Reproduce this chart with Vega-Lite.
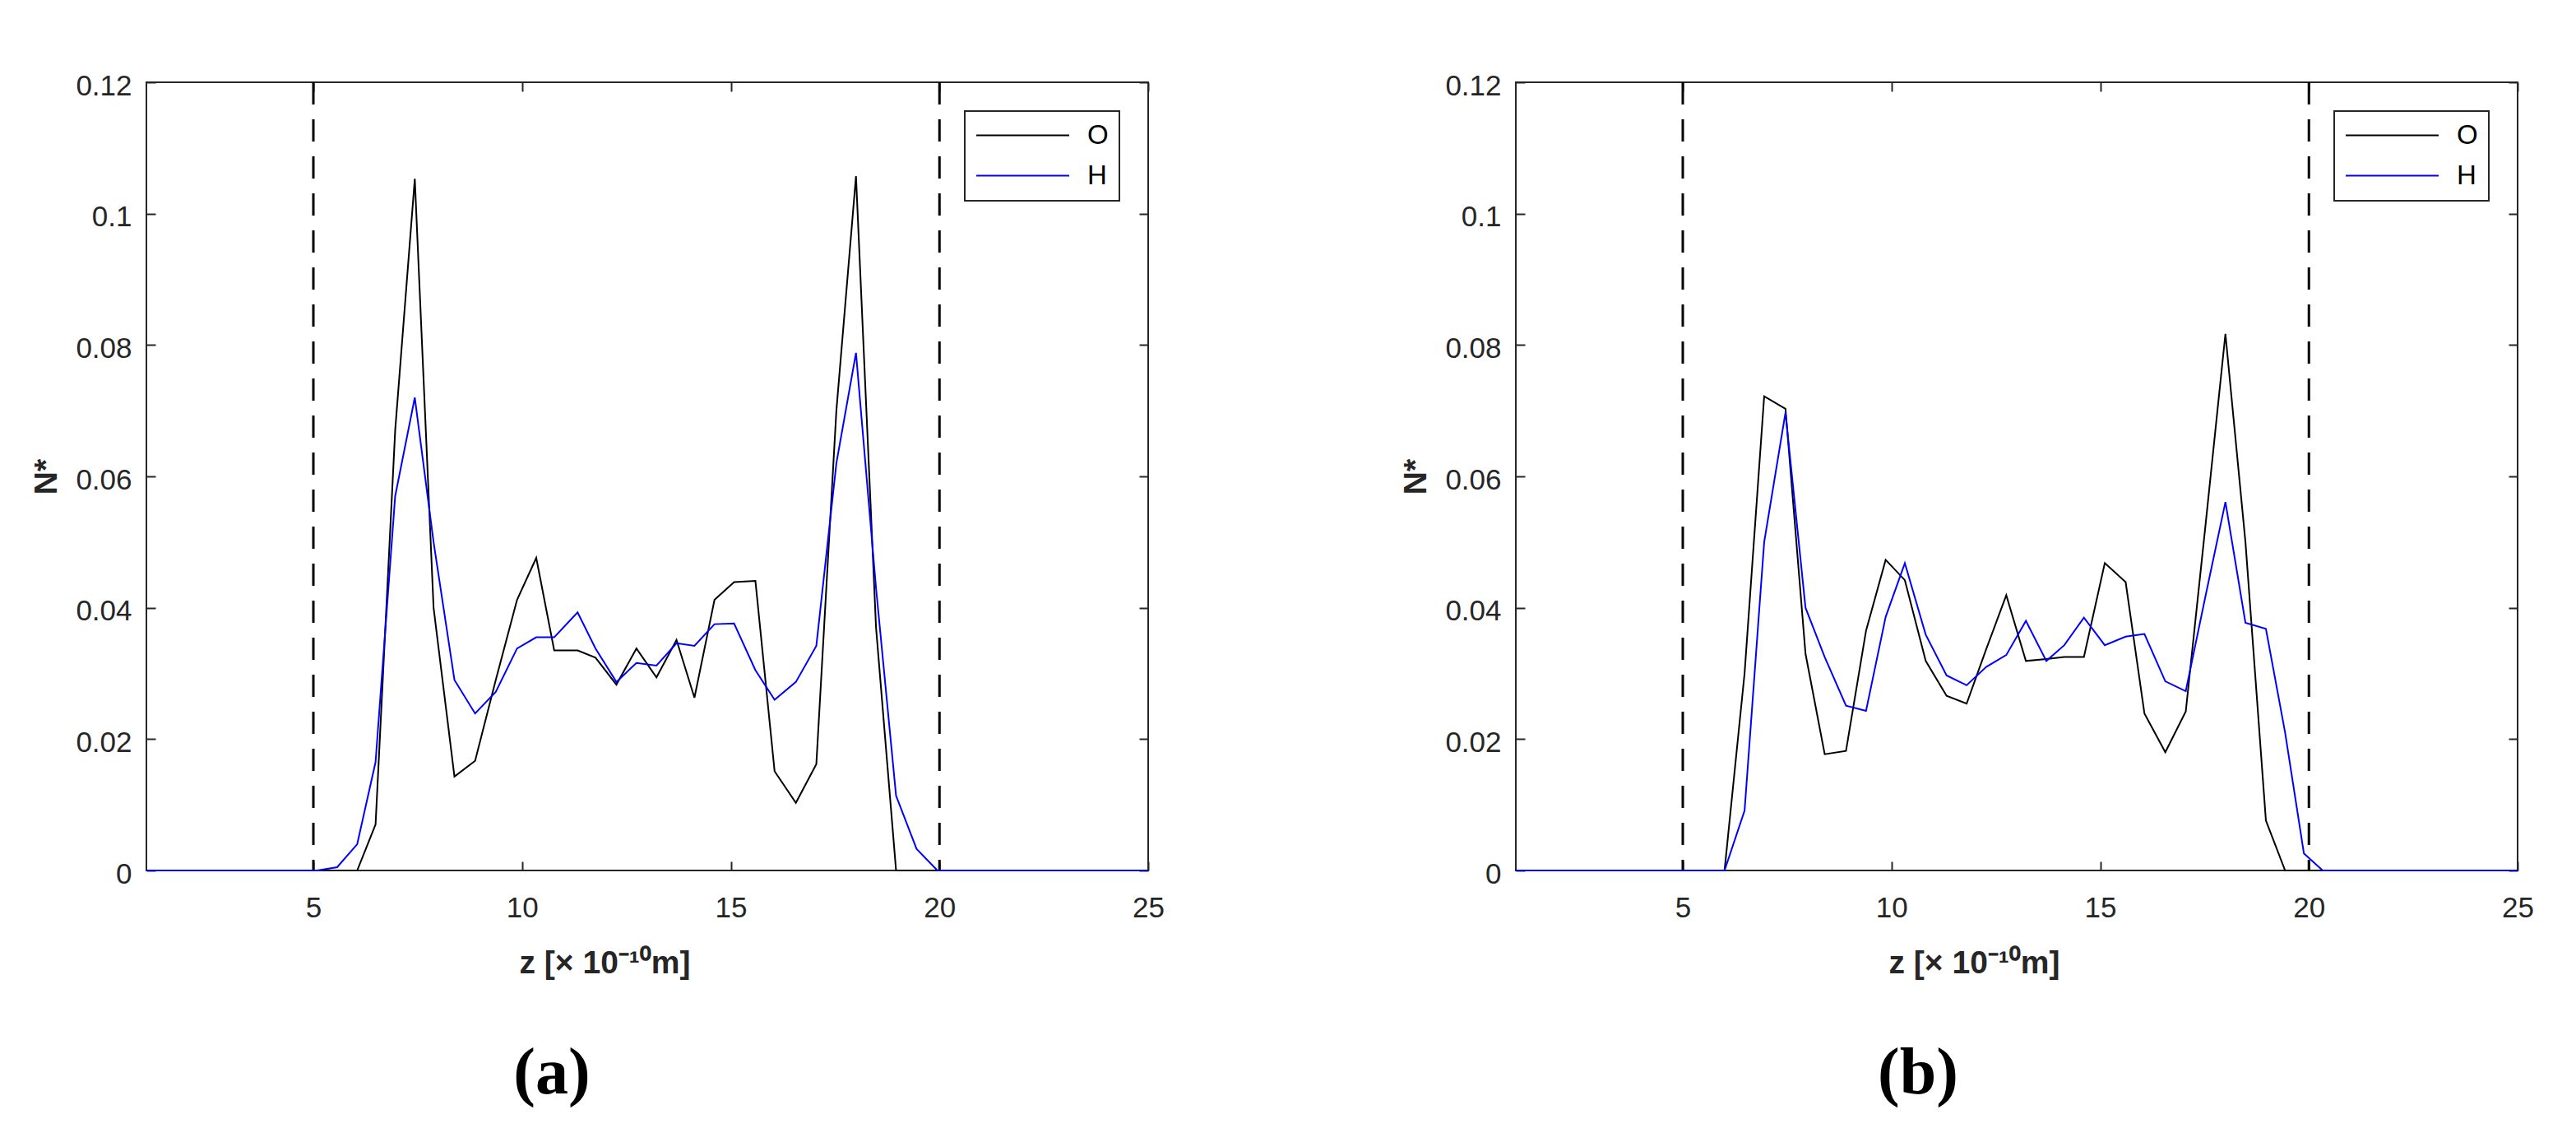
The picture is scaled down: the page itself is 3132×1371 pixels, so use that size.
{
  "$schema": "https://vega.github.io/schema/vega-lite/v6.json",
  "background": "white",
  "padding": {"left": 36, "top": 86, "right": 10, "bottom": 10},
  "datasets": {
    "walls": [{"z": 5}, {"z": 20}],
    "a": [
      {"z": 1, "O": 0, "H": 0},
      {"z": 5.09, "O": 0, "H": 0},
      {"z": 5.57, "O": 0, "H": 0.0005},
      {"z": 6.05, "O": 0, "H": 0.004},
      {"z": 6.49, "O": 0.007, "H": 0.0165},
      {"z": 6.96, "O": 0.067, "H": 0.057},
      {"z": 7.43, "O": 0.1053, "H": 0.072},
      {"z": 7.88, "O": 0.040, "H": 0.050},
      {"z": 8.38, "O": 0.0143, "H": 0.029},
      {"z": 8.875, "O": 0.0167, "H": 0.0239},
      {"z": 9.37, "O": 0.029, "H": 0.0272},
      {"z": 9.88, "O": 0.0412, "H": 0.0338},
      {"z": 10.34, "O": 0.0476, "H": 0.0355},
      {"z": 10.77, "O": 0.0335, "H": 0.0355},
      {"z": 11.33, "O": 0.0335, "H": 0.0393},
      {"z": 11.76, "O": 0.0324, "H": 0.0338},
      {"z": 12.26, "O": 0.0283, "H": 0.0287},
      {"z": 12.74, "O": 0.0338, "H": 0.0316},
      {"z": 13.22, "O": 0.0294, "H": 0.0312},
      {"z": 13.70, "O": 0.0351, "H": 0.0346},
      {"z": 14.13, "O": 0.0263, "H": 0.0342},
      {"z": 14.61, "O": 0.0412, "H": 0.0375},
      {"z": 15.08, "O": 0.0439, "H": 0.0376},
      {"z": 15.59, "O": 0.0441, "H": 0.0305},
      {"z": 16.05, "O": 0.0151, "H": 0.026},
      {"z": 16.56, "O": 0.0103, "H": 0.0287},
      {"z": 17.05, "O": 0.0162, "H": 0.0342},
      {"z": 17.53, "O": 0.070, "H": 0.062},
      {"z": 18.0, "O": 0.1057, "H": 0.0788},
      {"z": 18.48, "O": 0.037, "H": 0.043},
      {"z": 18.96, "O": 0, "H": 0.0114},
      {"z": 19.45, "O": 0, "H": 0.0033},
      {"z": 19.95, "O": 0, "H": 0},
      {"z": 25, "O": 0, "H": 0}
    ],
    "b": [
      {"z": 1, "O": 0, "H": 0},
      {"z": 5.52, "O": 0, "H": 0},
      {"z": 6.0, "O": 0, "H": 0},
      {"z": 6.48, "O": 0.030, "H": 0.0091},
      {"z": 6.95, "O": 0.0722, "H": 0.050},
      {"z": 7.46, "O": 0.0703, "H": 0.0697},
      {"z": 7.94, "O": 0.033, "H": 0.040},
      {"z": 8.40, "O": 0.0177, "H": 0.0325},
      {"z": 8.91, "O": 0.0182, "H": 0.0251},
      {"z": 9.39, "O": 0.0365, "H": 0.0243},
      {"z": 9.86, "O": 0.0473, "H": 0.0386},
      {"z": 10.32, "O": 0.0442, "H": 0.0468},
      {"z": 10.82, "O": 0.0319, "H": 0.0359},
      {"z": 11.32, "O": 0.0266, "H": 0.0297},
      {"z": 11.80, "O": 0.0254, "H": 0.0282},
      {"z": 12.27, "O": 0.0337, "H": 0.031},
      {"z": 12.75, "O": 0.0419, "H": 0.0328},
      {"z": 13.22, "O": 0.0319, "H": 0.038},
      {"z": 13.71, "O": 0.0322, "H": 0.0319},
      {"z": 14.14, "O": 0.0325, "H": 0.0343},
      {"z": 14.61, "O": 0.0325, "H": 0.0385},
      {"z": 15.11, "O": 0.0468, "H": 0.0343},
      {"z": 15.61, "O": 0.0439, "H": 0.0356},
      {"z": 16.06, "O": 0.0239, "H": 0.036},
      {"z": 16.56, "O": 0.018, "H": 0.0288},
      {"z": 17.05, "O": 0.0242, "H": 0.0273},
      {"z": 17.53, "O": 0.053, "H": 0.042},
      {"z": 18.0, "O": 0.0817, "H": 0.0561},
      {"z": 18.48, "O": 0.050, "H": 0.0377},
      {"z": 18.97, "O": 0.0076, "H": 0.0368},
      {"z": 19.43, "O": 0, "H": 0.021},
      {"z": 19.88, "O": 0, "H": 0.0026},
      {"z": 20.33, "O": 0, "H": 0},
      {"z": 25, "O": 0, "H": 0}
    ]
  },
  "config": {
    "view": {"stroke": "#262626", "strokeWidth": 2},
    "axis": {
      "grid": false,
      "domain": false,
      "tickColor": "#262626",
      "tickWidth": 2,
      "tickSize": -11,
      "labelFont": "Liberation Sans",
      "labelFontSize": 35,
      "labelColor": "#262626",
      "titleFont": "Liberation Sans",
      "titleFontSize": 39,
      "titleFontWeight": "bold",
      "titleColor": "#262626"
    },
    "legend": {"strokeWidth": 2}
  },
  "resolve": {"scale": {"color": "independent"}, "legend": {"color": "independent"}},
  "bounds": "flush",
  "spacing": 447,
  "hconcat": [
    {
      "width": 1218,
      "height": 958,
      "title": {"text": "(a)", "orient": "bottom", "frame": "group", "anchor": "middle", "dx": -116, "offset": 139, "baseline": "alphabetic", "font": "Liberation Serif", "fontSize": 80, "fontWeight": "bold", "color": "#000000"},
      "resolve": {"axis": {"x": "independent", "y": "independent"}},
      "layer": [
        {
          "data": {"name": "walls"},
          "mark": {"type": "rule", "color": "#000000", "strokeWidth": 3, "strokeDash": [27, 18]},
          "encoding": {
            "x": {"field": "z", "type": "quantitative", "scale": {"domain": [1, 25], "nice": false, "zero": false},
              "axis": {"orient": "bottom", "values": [5, 10, 15, 20, 25], "labelBaseline": "alphabetic", "labelPadding": 67, "labelFlush": false, "title": "z [× 10⁻¹⁰m]", "titleX": 557, "titleY": 124, "titleBaseline": "alphabetic", "titleAlign": "center"}}
          }
        },
        {
          "data": {"name": "a"},
          "transform": [{"fold": ["O", "H"], "as": ["s", "v"]}, {"filter": "datum.s === 'O'"}],
          "mark": {"type": "line", "strokeWidth": 2},
          "encoding": {
            "x": {"field": "z", "type": "quantitative", "scale": {"domain": [1, 25], "nice": false, "zero": false},
              "axis": {"orient": "top", "values": [5, 10, 15, 20, 25], "labels": false, "title": null}},
            "y": {"field": "v", "type": "quantitative", "scale": {"domain": [0, 0.12], "nice": false},
              "axis": {"orient": "left", "values": [0, 0.02, 0.04, 0.06, 0.08, 0.1, 0.12], "format": ".2~f", "labelPadding": 29, "labelBaseline": "alphabetic", "labelOffset": 15, "title": "N*", "titleX": -110, "titleY": 479, "titleBaseline": "alphabetic", "titleAngle": 270, "titleAlign": "center"}},
            "color": {"field": "s", "type": "nominal", "scale": {"domain": ["O", "H"], "range": ["#000000", "#0000ff"]},
              "legend": {"orient": "top-right", "offset": 35, "title": null, "symbolType": "stroke", "symbolSize": 12769, "symbolStrokeWidth": 2, "clipHeight": 33, "labelFontSize": 33, "labelFont": "Liberation Sans", "labelColor": "#000000", "labelOffset": 21, "padding": 13, "rowPadding": 15, "strokeColor": "#262626", "fillColor": "#ffffff"}}
          }
        },
        {
          "data": {"name": "a"},
          "transform": [{"fold": ["O", "H"], "as": ["s", "v"]}, {"filter": "datum.s === 'H'"}],
          "mark": {"type": "line", "strokeWidth": 2},
          "encoding": {
            "x": {"field": "z", "type": "quantitative", "scale": {"domain": [1, 25], "nice": false, "zero": false}, "axis": null},
            "y": {"field": "v", "type": "quantitative", "scale": {"domain": [0, 0.12], "nice": false},
              "axis": {"orient": "right", "values": [0, 0.02, 0.04, 0.06, 0.08, 0.1, 0.12], "labels": false, "title": null}},
            "color": {"field": "s", "type": "nominal", "scale": {"domain": ["O", "H"], "range": ["#000000", "#0000ff"]},
              "legend": {"orient": "top-right", "offset": 35, "title": null, "symbolType": "stroke", "symbolSize": 12769, "symbolStrokeWidth": 2, "clipHeight": 33, "labelFontSize": 33, "labelFont": "Liberation Sans", "labelColor": "#000000", "labelOffset": 21, "padding": 13, "rowPadding": 15, "strokeColor": "#262626", "fillColor": "#ffffff"}}
          }
        }
      ]
    },
    {
      "width": 1218,
      "height": 958,
      "title": {"text": "(b)", "orient": "bottom", "frame": "group", "anchor": "middle", "dx": -120, "offset": 139, "baseline": "alphabetic", "font": "Liberation Serif", "fontSize": 80, "fontWeight": "bold", "color": "#000000"},
      "resolve": {"axis": {"x": "independent", "y": "independent"}},
      "layer": [
        {
          "data": {"name": "walls"},
          "mark": {"type": "rule", "color": "#000000", "strokeWidth": 3, "strokeDash": [27, 18]},
          "encoding": {
            "x": {"field": "z", "type": "quantitative", "scale": {"domain": [1, 25], "nice": false, "zero": false},
              "axis": {"orient": "bottom", "values": [5, 10, 15, 20, 25], "labelBaseline": "alphabetic", "labelPadding": 67, "labelFlush": false, "title": "z [× 10⁻¹⁰m]", "titleX": 557, "titleY": 124, "titleBaseline": "alphabetic", "titleAlign": "center"}}
          }
        },
        {
          "data": {"name": "b"},
          "transform": [{"fold": ["O", "H"], "as": ["s", "v"]}, {"filter": "datum.s === 'O'"}],
          "mark": {"type": "line", "strokeWidth": 2},
          "encoding": {
            "x": {"field": "z", "type": "quantitative", "scale": {"domain": [1, 25], "nice": false, "zero": false},
              "axis": {"orient": "top", "values": [5, 10, 15, 20, 25], "labels": false, "title": null}},
            "y": {"field": "v", "type": "quantitative", "scale": {"domain": [0, 0.12], "nice": false},
              "axis": {"orient": "left", "values": [0, 0.02, 0.04, 0.06, 0.08, 0.1, 0.12], "format": ".2~f", "labelPadding": 29, "labelBaseline": "alphabetic", "labelOffset": 15, "title": "N*", "titleX": -110, "titleY": 479, "titleBaseline": "alphabetic", "titleAngle": 270, "titleAlign": "center"}},
            "color": {"field": "s", "type": "nominal", "scale": {"domain": ["O", "H"], "range": ["#000000", "#0000ff"]},
              "legend": {"orient": "top-right", "offset": 35, "title": null, "symbolType": "stroke", "symbolSize": 12769, "symbolStrokeWidth": 2, "clipHeight": 33, "labelFontSize": 33, "labelFont": "Liberation Sans", "labelColor": "#000000", "labelOffset": 21, "padding": 13, "rowPadding": 15, "strokeColor": "#262626", "fillColor": "#ffffff"}}
          }
        },
        {
          "data": {"name": "b"},
          "transform": [{"fold": ["O", "H"], "as": ["s", "v"]}, {"filter": "datum.s === 'H'"}],
          "mark": {"type": "line", "strokeWidth": 2},
          "encoding": {
            "x": {"field": "z", "type": "quantitative", "scale": {"domain": [1, 25], "nice": false, "zero": false}, "axis": null},
            "y": {"field": "v", "type": "quantitative", "scale": {"domain": [0, 0.12], "nice": false},
              "axis": {"orient": "right", "values": [0, 0.02, 0.04, 0.06, 0.08, 0.1, 0.12], "labels": false, "title": null}},
            "color": {"field": "s", "type": "nominal", "scale": {"domain": ["O", "H"], "range": ["#000000", "#0000ff"]},
              "legend": {"orient": "top-right", "offset": 35, "title": null, "symbolType": "stroke", "symbolSize": 12769, "symbolStrokeWidth": 2, "clipHeight": 33, "labelFontSize": 33, "labelFont": "Liberation Sans", "labelColor": "#000000", "labelOffset": 21, "padding": 13, "rowPadding": 15, "strokeColor": "#262626", "fillColor": "#ffffff"}}
          }
        }
      ]
    }
  ]
}
